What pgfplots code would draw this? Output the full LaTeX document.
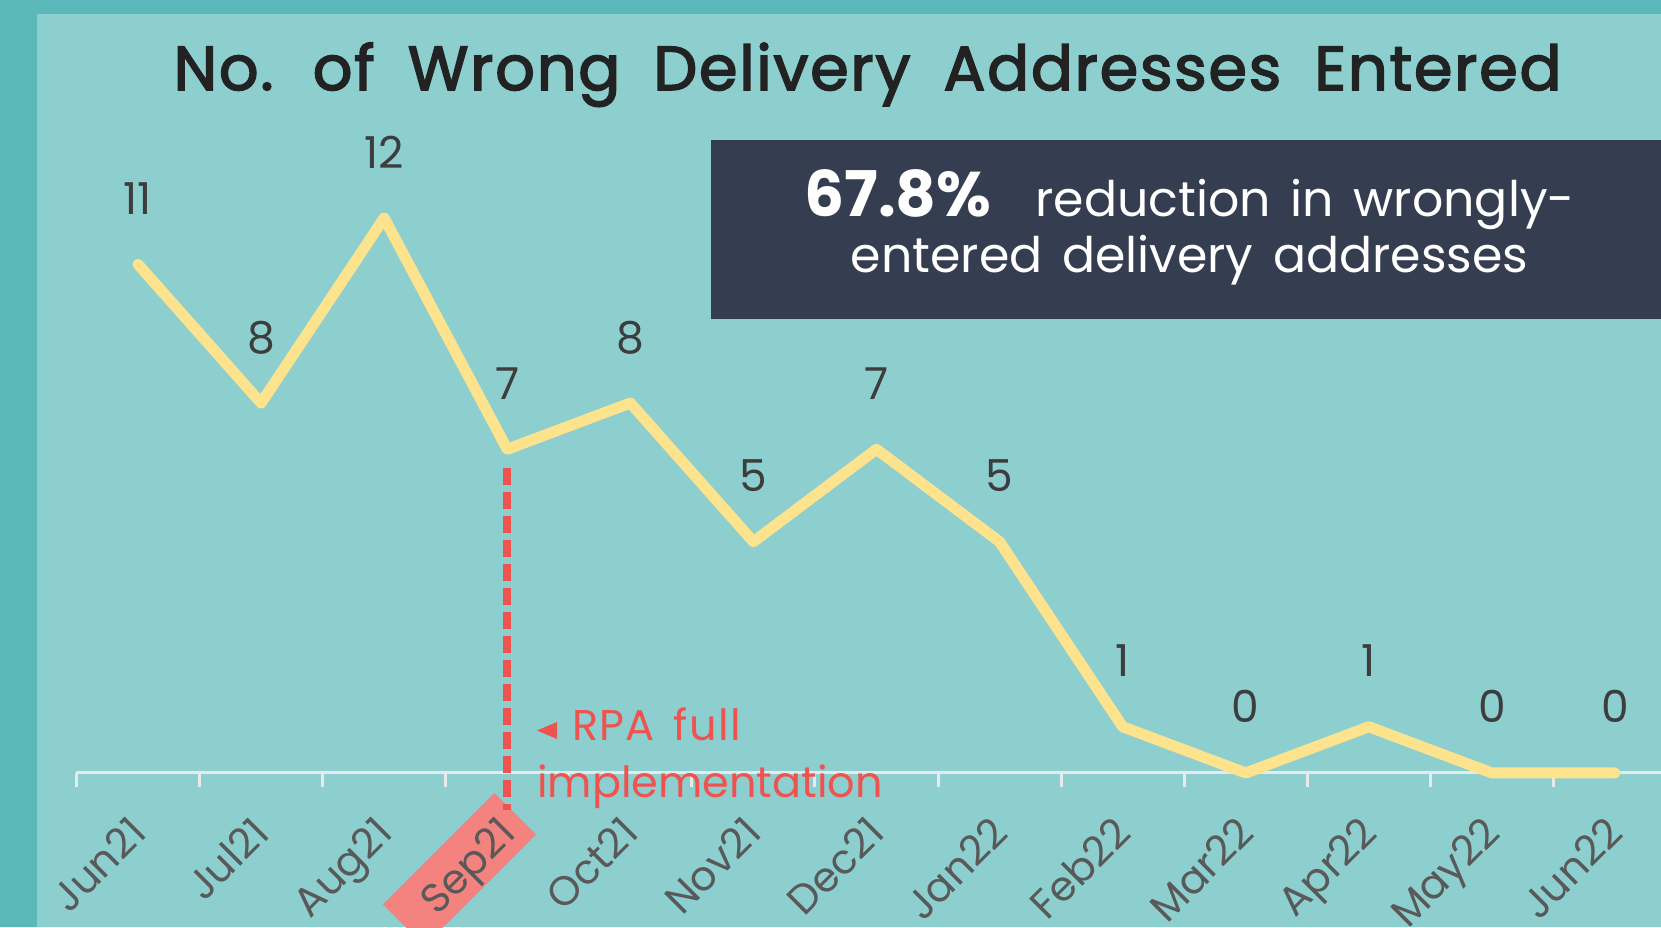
\documentclass[border=0pt]{standalone}
\usepackage{fontspec}
\setmainfont{Poppins}
\newfontfamily\titlefont[FakeBold=2.6, LetterSpace=3, WordSpace=1.8]{Poppins}
\newfontfamily\rpafont[LetterSpace=3, WordSpace=1.5]{Poppins}
\newfontfamily\boxfont[WordSpace=1.5]{Poppins}
\usepackage{pgfplots}
\pgfplotsset{compat=1.18}
\definecolor{outerbg}{HTML}{5BB8BA}
\definecolor{innerbg}{HTML}{8CCFCE}
\definecolor{lineyel}{HTML}{FDE38D}
\definecolor{rpared}{HTML}{EF5350}
\definecolor{salmon}{HTML}{F4837F}
\definecolor{boxcol}{HTML}{343E50}
\definecolor{axline}{HTML}{E6EAEA}
\definecolor{titlecol}{HTML}{222222}
\definecolor{labcol}{HTML}{3D3D3D}
\definecolor{tickcol}{HTML}{595959}
\begin{document}
\begin{tikzpicture}
\clip[use as bounding box] (0,0) rectangle (1661pt,927pt);
\fill[outerbg] (0,0) rectangle (1661pt,927pt);
\fill[innerbg] (37pt,0) rectangle (1661pt,913pt);
% highlight behind Sep21 tick label
\node[fill=salmon, rotate=45, minimum width=158pt, minimum height=59pt, inner sep=0pt] at (459.5pt,57.5pt) {};
\begin{axis}[
  at={(0,0)}, anchor=south west,
  width=1661pt, height=927pt, scale only axis,
  xmin=-1.1212, xmax=12.374, ymin=-3.330, ymax=16.714,
  axis line style={draw=none},
  ytick=\empty,
  xtick={0,...,12},
  xticklabels={Jun21,Jul21,Aug21,Sep21,Oct21,Nov21,Dec21,Jan22,Feb22,Mar22,Apr22,May22,Jun22},
  major tick length=0pt,
  xticklabel shift=-113pt,
  x tick label style={xshift=-11pt, rotate=45, font=\fontsize{41}{42}\selectfont, text=tickcol, anchor=north east, inner sep=0pt},
  clip=false,
  /pgf/number format/assume math mode=true,
  nodes near coords,
  every node near coord/.append style={anchor=base, yshift=50pt, font=\fontsize{44}{46}\selectfont, text=labcol},
]
\draw[axline, line width=3pt] (axis cs:-0.5,0) -- (axis cs:12.6,0);
\pgfplotsinvokeforeach{-0.5,0.5,1.5,2.5,3.5,4.5,5.5,6.5,7.5,8.5,9.5,10.5,11.5}{
  \draw[axline, line width=3pt] (axis cs:#1,0) -- ++(0pt,-14pt);
}
\draw[rpared, line width=8pt, dash pattern=on 17pt off 7pt] (axis cs:3,6.6) -- (axis cs:3,-0.8);
\addplot[lineyel, line width=11pt, line join=round, line cap=round] table[row sep=\\] {
x y\\
0 11\\
1 8\\
2 12\\
3 7\\
4 8\\
5 5\\
6 7\\
7 5\\
8 1\\
9 0\\
10 1\\
11 0\\
12 0\\
};
\end{axis}
% title
\node[anchor=base, text=titlecol, font=\fontsize{62}{64}\titlefont] at (867.5pt,837pt) {No. of Wrong Delivery Addresses Entered};
% box
\fill[boxcol] (711pt,608pt) rectangle (1661pt,787pt);
\node[anchor=base, text=white, inner sep=0pt] at (1189.5pt,710pt) {{\fontsize{63}{65}\selectfont\bfseries 67.8\%}\hspace{44pt}{\fontsize{49}{51}\boxfont reduction in wrongly-}};
\node[anchor=base, text=white, inner sep=0pt, font=\fontsize{49}{51}\boxfont] at (1189.5pt,654pt) {entered delivery addresses};
% RPA annotation
\fill[rpared] (537pt,196.5pt) -- (557pt,205pt) -- (557pt,188pt) -- cycle;
\node[anchor=base west, text=rpared, inner sep=0pt, font=\fontsize{43}{45}\rpafont] at (572pt,187pt) {RPA full};
\node[anchor=base west, text=rpared, inner sep=0pt, font=\fontsize{43}{45}\selectfont] at (537pt,130pt) {implementation};
\end{tikzpicture}
\end{document}
